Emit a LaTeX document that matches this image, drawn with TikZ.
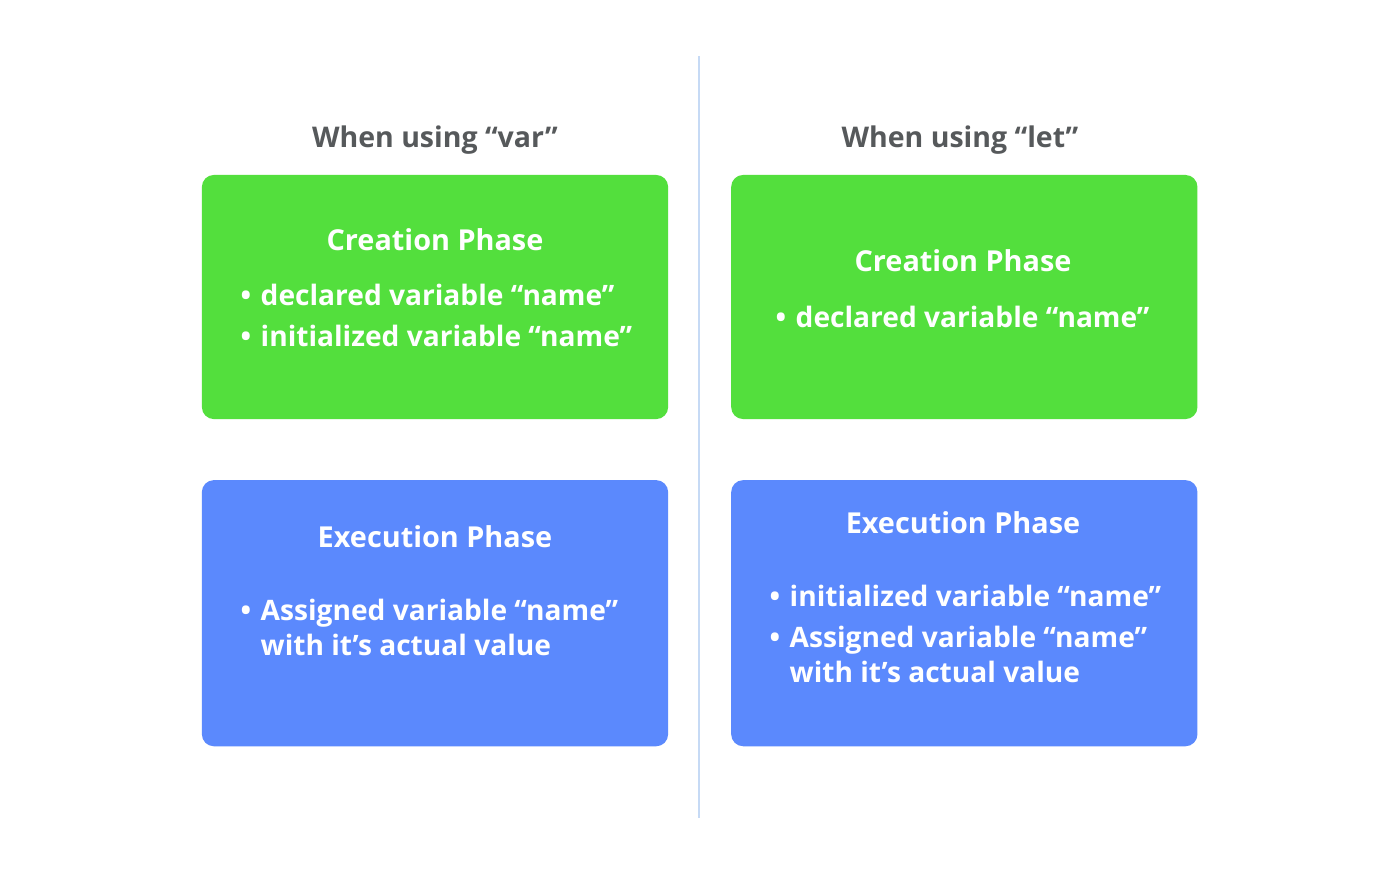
\documentclass[tikz,border=0pt]{standalone}
\usepackage{fontspec}
\setmainfont{Open Sans}
\usetikzlibrary{positioning}

\definecolor{phasegreen}{HTML}{53DF3D}
\definecolor{phaseblue}{HTML}{5B89FD}
\definecolor{headgray}{HTML}{56595B}
\definecolor{dividerblue}{HTML}{C6DAF5}
\newcommand{\bul}{\makebox[0.2cm][l]{\textbullet}}

\begin{document}
\begin{tikzpicture}[x=0.01cm, y=-0.01cm,
  phase/.style={rectangle, rounded corners=0.12cm, minimum width=4.66cm, draw=none, inner sep=0pt, outer sep=0pt},
  head/.style={font=\bfseries\fontsize{8.1}{10}\selectfont, text=headgray, anchor=base, inner sep=0pt},
  phasetitle/.style={font=\bfseries\fontsize{8.2}{10}\selectfont, text=white, anchor=base, inner sep=0pt},
  items/.style={font=\bfseries\fontsize{8}{10}\selectfont, text=white, anchor=base west, inner sep=0pt}]

  \fill[white] (0,0) rectangle (1400,875);

  % divider between the two columns
  \coordinate (divtop) at (699,56);
  \coordinate (divbot) at (699,818);
  \draw[dividerblue, line width=0.5pt] (divtop) -- (divbot);

  % boxes
  \node[phase, fill=phasegreen, minimum height=2.44cm] (varcreate) at (435,297) {};
  \node[phase, fill=phasegreen, minimum height=2.44cm, right=0.63cm of varcreate] (letcreate) {};
  \node[phase, fill=phaseblue, minimum height=2.66cm, below=0.61cm of varcreate] (varexec) {};
  \node[phase, fill=phaseblue, minimum height=2.66cm, below=0.61cm of letcreate] (letexec) {};

  % column heads
  \node[head] (varhead) at (435,147) {When using “var”};
  \node[head] (lethead) at (960,147) {When using “let”};

  % "var" column
  \node[phasetitle] (varcreatetitle) at (435,250) {Creation Phase};
  \node[items] (varcreateitems) at (240,305) {\begin{tabular}[t]{@{}l@{}}
    \bul declared variable “name”\\[1.7pt]
    \bul initialized variable “name”\end{tabular}};
  \node[phasetitle] (varexectitle) at (435,547) {Execution Phase};
  \node[items] (varexecitems) at (240,620) {\begin{tabular}[t]{@{}l@{}}
    \bul Assigned variable “name”\\
    \hspace*{0.2cm}with it’s actual value\end{tabular}};

  % "let" column
  \node[phasetitle] (letcreatetitle) at (963,271) {Creation Phase};
  \node[items] (letcreateitems) at (775,327) {\begin{tabular}[t]{@{}l@{}}
    \bul declared variable “name”\end{tabular}};
  \node[phasetitle] (letexectitle) at (963,533) {Execution Phase};
  \node[items] (letexecitems) at (769,606) {\begin{tabular}[t]{@{}l@{}}
    \bul initialized variable “name”\\[1.7pt]
    \bul Assigned variable “name”\\
    \hspace*{0.2cm}with it’s actual value\end{tabular}};
\end{tikzpicture}
\end{document}
